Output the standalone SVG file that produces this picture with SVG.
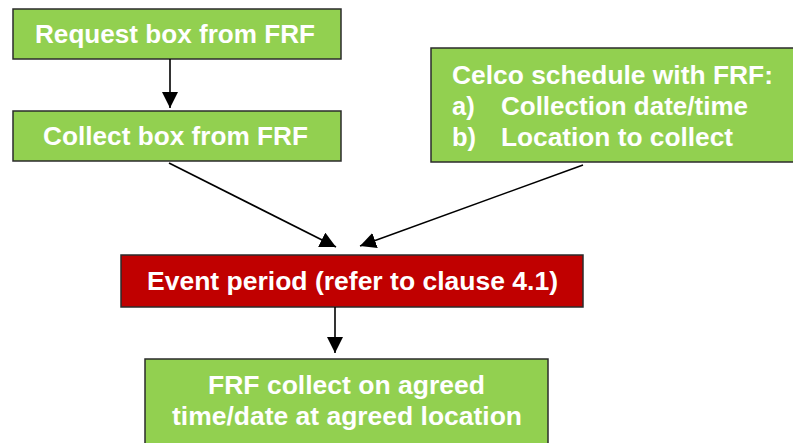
<svg xmlns="http://www.w3.org/2000/svg" width="793" height="443" viewBox="0 0 793 443">
<style>
.g{fill:#92D050;stroke:#2b2b2b;stroke-width:1.5}
.r{fill:#C00000;stroke:#2b2b2b;stroke-width:1.5}
.t{font-family:"Liberation Sans",Arial,sans-serif;font-weight:bold;font-size:25.5px;fill:#ffffff}
.c{stroke:#000;stroke-width:1.6;fill:none}
</style>
<defs>
<marker id="ah" markerUnits="userSpaceOnUse" markerWidth="18" markerHeight="18" refX="16" refY="8" orient="auto">
<path d="M0,0 L16,8 L0,16 Z" fill="#000"/>
</marker>
</defs>
<g id="request">
<rect class="g" x="13" y="9" width="328" height="50"/>
<text class="t" x="175" y="43" text-anchor="middle" textLength="280" lengthAdjust="spacingAndGlyphs">Request box from FRF</text>
</g>
<g id="collect">
<rect class="g" x="13" y="111" width="328" height="50"/>
<text class="t" x="175.5" y="145" text-anchor="middle" textLength="265" lengthAdjust="spacingAndGlyphs">Collect box from FRF</text>
</g>
<g id="celco">
<rect class="g" x="431" y="48" width="375" height="114"/>
<text class="t" x="452" y="84" textLength="321" lengthAdjust="spacingAndGlyphs">Celco schedule with FRF:</text>
<text class="t" x="452" y="115">a)</text>
<text class="t" x="501" y="115" textLength="247" lengthAdjust="spacingAndGlyphs">Collection date/time</text>
<text class="t" x="452" y="146">b)</text>
<text class="t" x="501" y="146" textLength="232" lengthAdjust="spacingAndGlyphs">Location to collect</text>
</g>
<g id="event">
<rect class="r" x="121" y="255" width="462" height="52"/>
<text class="t" x="352.5" y="290" text-anchor="middle" textLength="411" lengthAdjust="spacingAndGlyphs">Event period (refer to clause 4.1)</text>
</g>
<g id="frf">
<rect class="g" x="145" y="359" width="403" height="100"/>
<text class="t" x="346.5" y="394" text-anchor="middle" textLength="277" lengthAdjust="spacingAndGlyphs">FRF collect on agreed</text>
<text class="t" x="347" y="425" text-anchor="middle" textLength="350" lengthAdjust="spacingAndGlyphs">time/date at agreed location</text>
</g>
<g id="connectors">
<line class="c" x1="170" y1="59" x2="170" y2="108" marker-end="url(#ah)"/>
<line class="c" x1="169" y1="163" x2="336" y2="247" marker-end="url(#ah)"/>
<line class="c" x1="583" y1="165" x2="360" y2="246" marker-end="url(#ah)"/>
<line class="c" x1="335" y1="307" x2="335" y2="353" marker-end="url(#ah)"/>
</g>
</svg>
